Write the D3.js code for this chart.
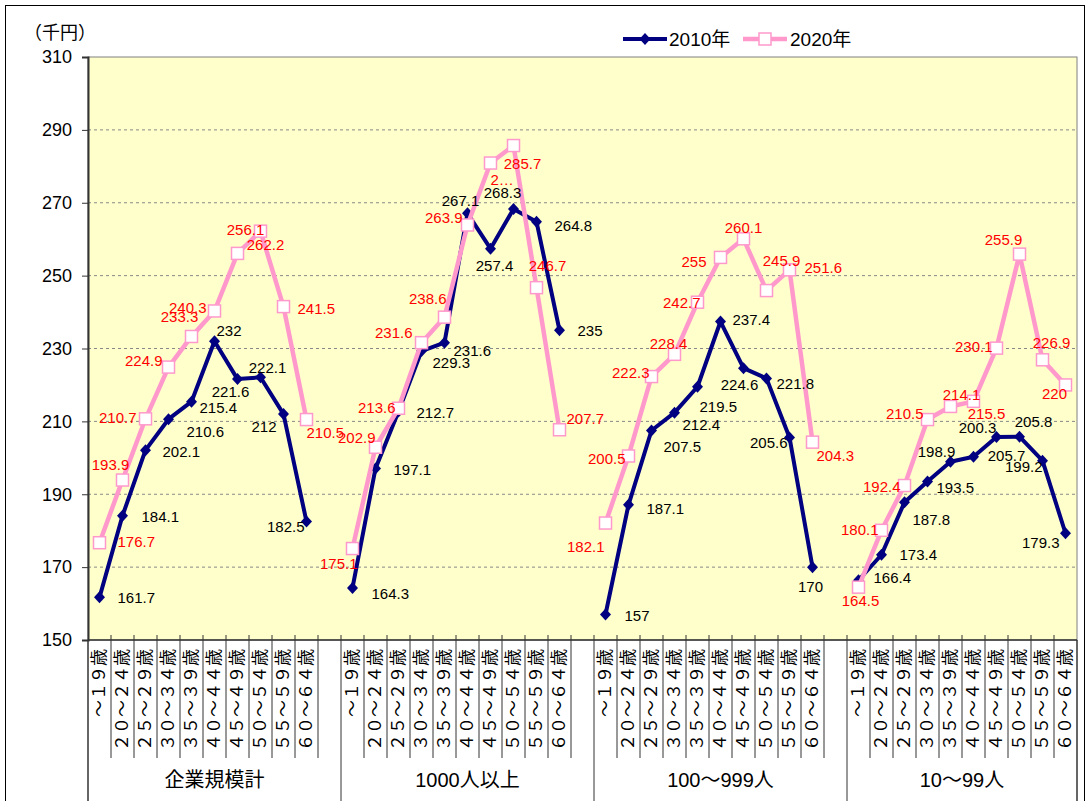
<!DOCTYPE html>
<meta charset="utf-8">
<head>
<style>
  body { margin: 0; background: #fff; }
  svg text { font-family: "Liberation Sans", "Noto Sans CJK JP", sans-serif; }
</style>
</head>
<title>年齢階級別賃金</title>
<script src="https://d3js.org/d3.v7.min.js"></script>
<div id="chart"></div>
<script>
// data (千円)
var groups = ["企業規模計", "1000人以上", "100～999人", "10～99人"];
var ages = ["～１９歳", "２０～２４歳", "２５～２９歳", "３０～３４歳", "３５～３９歳",
            "４０～４４歳", "４５～４９歳", "５０～５４歳", "５５～５９歳", "６０～６４歳"];
var yTicks = [150, 170, 190, 210, 230, 250, 270, 290, 310];
var wage2010 = [
  [161.7, 184.1, 202.1, 210.6, 215.4, 232, 221.6, 222.1, 212, 182.5],
  [164.3, 197.1, 212.7, 229.3, 231.6, 267.1, 257.4, 268.3, 264.8, 235],
  [157, 187.1, 207.5, 212.4, 219.5, 237.4, 224.6, 221.8, 205.6, 170],
  [166.4, 173.4, 187.8, 193.5, 198.9, 200.3, 205.7, 205.8, 199.2, 179.3]
];
var wage2020 = [
  [176.7, 193.9, 210.7, 224.9, 233.3, 240.3, 256.1, 262.2, 241.5, 210.5],
  [175.1, 202.9, 213.6, 231.6, 238.6, 263.9, 280.9, 285.7, 246.7, 207.7],
  [182.1, 200.5, 222.3, 228.4, 242.7, 255, 260.1, 245.9, 251.6, 204.3],
  [164.5, 180.1, 192.4, 210.5, 214.1, 215.5, 230.1, 255.9, 226.9, 220]
];
// label text that excel cut short
var labelOverride2020 = { "1-6": "2…" };

// where each data label sits around its point: [anchor, dx, dy]
var place2010 = [
  [["s",18,0],["s",19,1],["s",17,1],["s",18,12],["s",8,6],["s",2,-11],["m",-7,12],["m",7,-10],["e",-7,12],["e",-2,5]],
  [["s",19,6],["s",18,1],["s",18,1],["s",11,11],["s",9,8],["m",-7,-13],["m",4,17],["m",-11,-16],["s",18,4],["s",18,0]],
  [["s",19,1],["s",18,4],["s",12,16],["s",8,12],["s",2,20],["s",12,-2],["m",-4,16],["s",10,5],["e",-2,5],["m",-2,19]],
  [["s",15,-3],["s",18,0],["s",8,17],["s",9,6],["m",-14,-10],["m",4,-29],["m",10,18],["m",14,-15],["e",0,6],["e",-6,9]]
];
var place2020 = [
  [["s",18,-1],["m",-12,-16],["e",-9,-1],["e",-6,-7],["m",-12,-20],["e",-8,-3],["m",8,-24],["m",5,13],["s",14,2],["s",0,13]],
  [["e",5,15],["e",0,-10],["e",-3,-1],["e",-9,-10],["e",2,-19],["e",-5,-7],["s",0,16],["m",9,18],["m",11,-22],["s",7,-11]],
  [["e",-1,23],["e",-3,3],["e",-2,-4],["m",-6,-11],["e",3,0],["e",-14,4],["m",0,-11],["m",15,-30],["s",15,-2],["s",4,13]],
  [["m",2,13],["e",-3,-1],["e",-4,1],["e",-4,-6],["m",11,-12],["m",13,12],["e",-4,-2],["m",-16,-15],["m",9,-17],["m",-11,9]]
];

var W = 1089, H = 801;
var plotL = 88, plotR = 1077, plotT = 57, plotB = 640;
var nSlots = groups.length * (ages.length + 1) - 1;   // blank slot between groups

var svg = d3.select("#chart").append("svg")
    .attr("width", W).attr("height", H);

svg.append("rect")
    .attr("x", 5.5).attr("y", 5.5).attr("width", 1079).attr("height", 800)
    .attr("fill", "#fff").attr("stroke", "#000");

var x = d3.scaleBand().domain(d3.range(nSlots)).range([plotL, plotR]);
var cx = function(s) { return x(s) + x.bandwidth() / 2; };
var y = d3.scaleLinear().domain([150, 310]).range([plotB, plotT]);

// plot area
svg.append("rect")
    .attr("x", plotL).attr("y", plotT)
    .attr("width", plotR - plotL).attr("height", plotB - plotT)
    .attr("fill", "#FFFFCC").attr("stroke", "#808080");

svg.selectAll("line.grid")
    .data(yTicks.slice(1, -1))
    .enter().append("line")
    .attr("class", "grid")
    .attr("x1", plotL).attr("x2", plotR)
    .attr("y1", function(d) { return y(d); }).attr("y2", function(d) { return y(d); })
    .attr("stroke", "#888").attr("stroke-dasharray", "3,3");

// y axis
var yAxis = svg.append("g")
    .attr("transform", "translate(" + plotL + ",0)")
    .call(d3.axisLeft(y).tickValues(yTicks).tickSize(6).tickPadding(10));
yAxis.select(".domain").attr("stroke", "#333").attr("stroke-width", 2);
yAxis.selectAll(".tick line").attr("stroke", "#333");
yAxis.selectAll("text").attr("font-size", 18).attr("fill", "#000")
    .style("font-family", "'Liberation Sans', 'Noto Sans CJK JP', sans-serif");

svg.append("text")
    .attr("x", 24).attr("y", 31)
    .attr("dominant-baseline", "central")
    .attr("font-size", 18)
    .style("font-family", "'Noto Sans CJK JP', sans-serif")
    .text("（千円）");

// x axis line, ticks and label table
svg.append("line")
    .attr("x1", plotL).attr("x2", plotR).attr("y1", plotB).attr("y2", plotB)
    .attr("stroke", "#333").attr("stroke-width", 1.5);

var bounds = d3.range(1, nSlots).map(function(s) { return { s: s, grp: s % (ages.length + 1) === 0 }; });
svg.selectAll("line.sep")
    .data(bounds)
    .enter().append("line")
    .attr("class", "sep")
    .attr("x1", function(d) { return x(d.s); }).attr("x2", function(d) { return x(d.s); })
    .attr("y1", plotB - 5)
    .attr("y2", function(d) { return d.grp ? H : 758; })
    .attr("stroke", "#333");

[plotL, plotR].forEach(function(px) {
  svg.append("line")
    .attr("x1", px).attr("x2", px).attr("y1", plotB).attr("y2", H)
    .attr("stroke", "#333").attr("stroke-width", 1.5);
});

var tickData = [];
groups.forEach(function(g, gi) {
  ages.forEach(function(a, j) { tickData.push({ slot: gi * (ages.length + 1) + j, label: a }); });
});

svg.selectAll("text.age")
    .data(tickData)
    .enter().append("text")
    .attr("class", "age")
    .attr("transform", function(d) { return "translate(" + cx(d.slot) + ",649) rotate(-90)"; })
    .attr("text-anchor", "end")
    .attr("dominant-baseline", "central")
    .attr("font-size", 17)
    .text(function(d) { return d.label; });

svg.selectAll("text.grp")
    .data(groups)
    .enter().append("text")
    .attr("class", "grp")
    .attr("x", function(d, i) {
      var s0 = i * (ages.length + 1);
      var x1 = i < groups.length - 1 ? x(s0 + ages.length + 1) : plotR;
      return (x(s0) + x1) / 2;
    })
    .attr("y", 780)
    .attr("text-anchor", "middle")
    .attr("dominant-baseline", "central")
    .attr("font-size", 20)
    .text(function(d) { return d; });

// series
function points(vals, place, override) {
  var out = [];
  vals.forEach(function(arr, gi) {
    arr.forEach(function(v, j) {
      var key = gi + "-" + j;
      out.push({ g: gi, slot: gi * (ages.length + 1) + j, v: v, p: place[gi][j],
                 label: override && override[key] ? override[key] : String(v) });
    });
  });
  return out;
}
var p2010 = points(wage2010, place2010);
var p2020 = points(wage2020, place2020, labelOverride2020);

var line = d3.line()
    .x(function(d) { return cx(d.slot); })
    .y(function(d) { return y(d.v); });

var diamond = "M0,-6L5.5,0L0,6L-5.5,0Z";

function drawSeries(pts, color, width, cls) {
  var byGroup = d3.groups(pts, function(d) { return d.g; });
  svg.selectAll("path.line-" + cls)
    .data(byGroup)
    .enter().append("path")
    .attr("class", "line-" + cls)
    .attr("d", function(d) { return line(d[1]); })
    .attr("fill", "none")
    .attr("stroke", color)
    .attr("stroke-width", width)
    .attr("stroke-linejoin", "round");
}

drawSeries(p2010, "#000080", 4, "a");
svg.selectAll("path.mk-a")
    .data(p2010)
    .enter().append("path")
    .attr("class", "mk-a")
    .attr("transform", function(d) { return "translate(" + cx(d.slot) + "," + y(d.v) + ")"; })
    .attr("d", diamond)
    .attr("fill", "#000080");

drawSeries(p2020, "#FF99CC", 4.5, "b");
svg.selectAll("rect.mk-b")
    .data(p2020)
    .enter().append("rect")
    .attr("class", "mk-b")
    .attr("x", function(d) { return cx(d.slot) - 6; })
    .attr("y", function(d) { return y(d.v) - 6; })
    .attr("width", 12).attr("height", 12)
    .attr("fill", "#fff").attr("stroke", "#FF99CC").attr("stroke-width", 1.5);

var anchors = { s: "start", m: "middle", e: "end" };
function drawLabels(pts, color, cls) {
  svg.selectAll("text." + cls)
    .data(pts)
    .enter().append("text")
    .attr("class", cls)
    .attr("x", function(d) { return cx(d.slot) + d.p[1]; })
    .attr("y", function(d) { return y(d.v) + d.p[2]; })
    .attr("text-anchor", function(d) { return anchors[d.p[0]]; })
    .attr("dominant-baseline", "central")
    .attr("font-size", 15)
    .attr("fill", color)
    .text(function(d) { return d.label; });
}
drawLabels(p2010, "#000", "lab-a");
drawLabels(p2020, "#FF0000", "lab-b");

// legend
var legend = svg.append("g").attr("transform", "translate(623,39)");
legend.append("line").attr("x1", 0).attr("x2", 44).attr("stroke", "#000080").attr("stroke-width", 4);
legend.append("path").attr("transform", "translate(22,0)").attr("d", diamond).attr("fill", "#000080");
legend.append("text").attr("x", 46).attr("dominant-baseline", "central").attr("font-size", 19).text("2010年");
legend.append("line").attr("x1", 120).attr("x2", 164).attr("stroke", "#FF99CC").attr("stroke-width", 4.5);
legend.append("rect").attr("x", 136).attr("y", -6).attr("width", 12).attr("height", 12)
    .attr("fill", "#fff").attr("stroke", "#FF99CC").attr("stroke-width", 1.5);
legend.append("text").attr("x", 167).attr("dominant-baseline", "central").attr("font-size", 19).text("2020年");
</script>
